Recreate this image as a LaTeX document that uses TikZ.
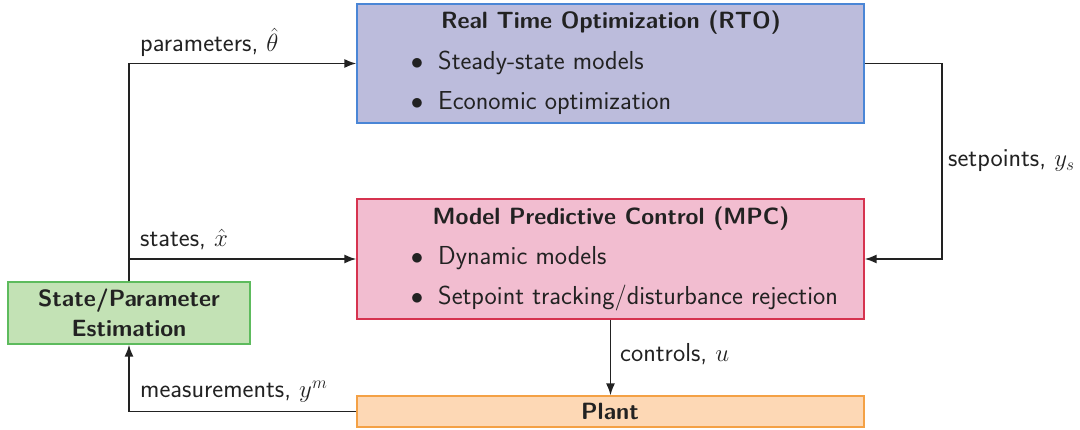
\documentclass[tikz,border=0pt]{standalone}
\usetikzlibrary{arrows.meta}
\definecolor{rtofill}{HTML}{BCBCDC}
\definecolor{rtoline}{HTML}{4A86D6}
\definecolor{mpcfill}{HTML}{F2BDD0}
\definecolor{mpcline}{HTML}{D6334F}
\definecolor{estfill}{HTML}{C3E2B5}
\definecolor{estline}{HTML}{5DBB5D}
\definecolor{plantfill}{HTML}{FDD8B5}
\definecolor{plantline}{HTML}{F4A145}
\definecolor{ink}{HTML}{222222}
\tikzset{
  box/.style={rectangle, inner sep=0pt, line width=1.2pt},
  txt/.style={inner sep=0pt, text=ink, font=\fontsize{26}{30}\selectfont\sffamily},
  ttl/.style={txt, font=\fontsize{23.5}{28}\selectfont\sffamily\bfseries},
  lbl/.style={txt, anchor=base west},
  arr/.style={draw=ink, line width=1.8pt, -{Latex[length=12pt,width=9pt]}}
}
\begin{document}
\begin{tikzpicture}[x=1pt,y=-1pt]
\useasboundingbox (0,0) rectangle (1080,430);
% boxes
\node[box, fill=rtofill, draw=rtoline, minimum width=507pt, minimum height=119pt] (rto) at (610.5,63.5) {};
\node[box, fill=mpcfill, draw=mpcline, minimum width=507pt, minimum height=120pt] (mpc) at (610.5,259) {};
\node[box, fill=estfill, draw=estline, minimum width=242pt, minimum height=62pt] (est) at (129,313) {};
\node[box, fill=plantfill, draw=plantline, minimum width=507pt, minimum height=31pt] (plant) at (610.5,411.5) {};
% box texts
\node[ttl, anchor=base] (rtot) at (611,29) {Real Time Optimization (RTO)};
\node[txt, anchor=base] (rtob1) at (417,70) {$\bullet$};
\node[lbl] (rto1) at (438,70) {Steady-state models};
\node[txt, anchor=base] (rtob2) at (417,110) {$\bullet$};
\node[lbl] (rto2) at (438,110) {Economic optimization};
\node[ttl, anchor=base] (mpct) at (611,225) {Model Predictive Control (MPC)};
\node[txt, anchor=base] (mpcb1) at (417,265) {$\bullet$};
\node[lbl] (mpc1) at (438,265) {Dynamic models};
\node[txt, anchor=base] (mpcb2) at (417,305) {$\bullet$};
\node[lbl] (mpc2) at (438,305) {Setpoint tracking/disturbance rejection};
\node[ttl, anchor=base] (est1) at (129,307) {State/Parameter};
\node[ttl, anchor=base] (est2) at (129,337) {Estimation};
\node[ttl, anchor=base] (plantt) at (610,420) {Plant};
% connectors
\draw[arr] (est.north) |- (rto.west);
\draw[arr] (est.north) |- (mpc.west);
\draw[arr] (rto.east) -- ++(77,0) |- (mpc.east);
\draw[arr] (mpc.south) -- (plant.north);
\draw[arr] (plant.west) -| (est.south);
% labels
\node[lbl] (lpar) at (140,52) {parameters, $\hat{\theta}$};
\node[lbl] (lsta) at (140,247) {states, $\hat{x}$};
\node[lbl] (lset) at (948,167) {setpoints, $y_s$};
\node[lbl] (lcon) at (620,362) {controls, $u$};
\node[lbl] (lmea) at (140,398) {measurements, $y^m$};
\end{tikzpicture}
\end{document}
